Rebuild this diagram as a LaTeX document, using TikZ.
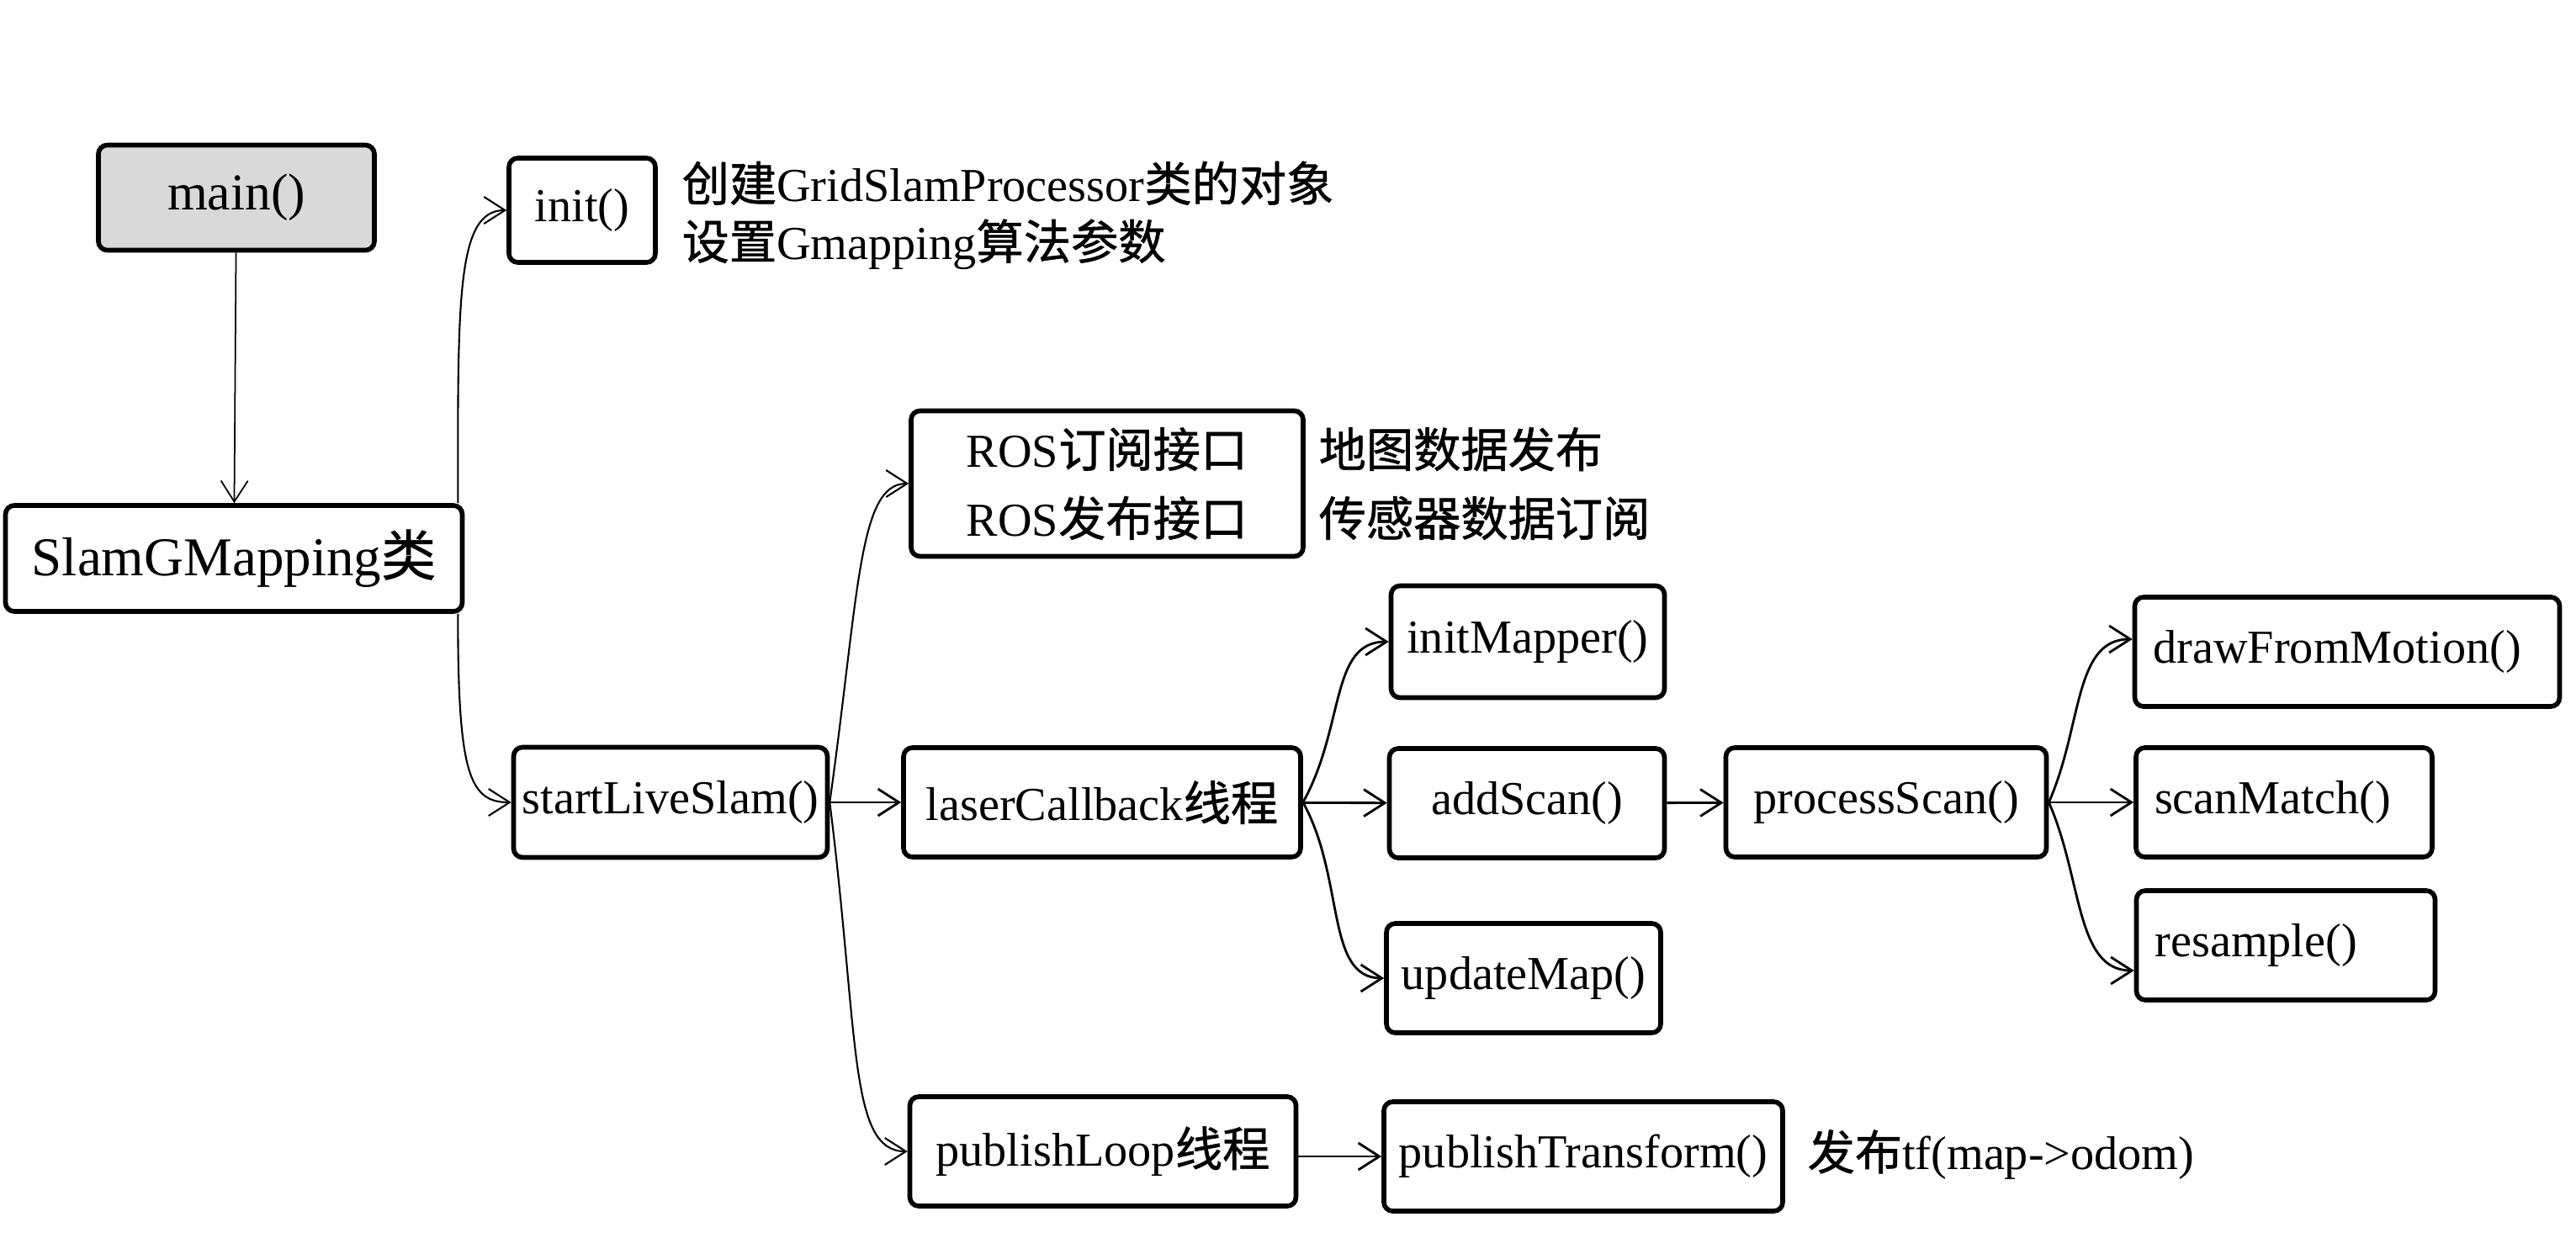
\documentclass[tikz,border=0pt]{standalone}
\usepackage{fontspec}
\setmainfont{Liberation Serif}
\newfontfamily\cjk{Noto Sans CJK SC}[FakeBold=1]
\newcommand{\zh}[1]{{\cjk #1}}
\usetikzlibrary{arrows.meta}

\begin{document}
\begin{tikzpicture}[
    module/.style={
        draw,
        rectangle,
        rounded corners=3pt,
        line width=1.6pt,
        minimum height=1.3cm,
        inner sep=1mm,
        align=center,
        font=\fontsize{16}{19}\selectfont
    },
    leftmodule/.style={
        module,
        align=left,
        inner xsep=2.2mm
    },
    note/.style={
        anchor=west,
        align=left,
        inner sep=0pt,
        font=\fontsize{16}{19.6}\selectfont
    },
    flow/.style={
        ->,
        >={Straight Barb[length=2.5mm,width=3.2mm]},
        line width=0.8pt
    },
    thinflow/.style={
        flow,
        line width=0.6pt
    }
]
    \useasboundingbox (0,0) rectangle (30.62,-14.72);

    % Entry layer
    \node[module, minimum width=3.28cm, minimum height=1.25cm, fill=black!15, font=\fontsize{17.5}{21}\selectfont] (main) at (2.81,-2.35) {main()};
    \node[module, minimum width=5.43cm, minimum height=1.26cm, font=\fontsize{18.5}{22}\selectfont] (slam) at (2.78,-6.64) {SlamGMapping\zh{类}};

    % Constructor and start layer
    \node[module, minimum width=1.74cm, minimum height=1.24cm] (init) at (6.92,-2.50) {init()};
    \node[note] (initnote) at (8.10,-2.56) {\zh{创建}GridSlamProcessor\zh{类的对象}\\\zh{设置}Gmapping\zh{算法参数}};
    \node[module, minimum width=3.70cm, minimum height=1.31cm] (start) at (7.97,-9.54) {startLiveSlam()};

    % Threads and interfaces
    \node[module, minimum width=4.66cm, minimum height=1.73cm, font=\fontsize{16}{23.3}\selectfont] (ros) at (13.16,-5.75) {ROS\zh{订阅接口}\\ROS\zh{发布接口}};
    \node[note, font=\fontsize{16}{23.3}\selectfont] (rosnote) at (15.67,-5.75) {\zh{地图数据发布}\\\zh{传感器数据订阅}};
    \node[module, minimum width=4.72cm] (laser) at (13.10,-9.54) {laserCallback\zh{线程}};
    \node[module, minimum width=4.59cm] (publoop) at (13.11,-13.69) {publishLoop\zh{线程}};

    % Mapper calls
    \node[module, minimum width=3.25cm, minimum height=1.33cm] (initm) at (18.16,-7.63) {initMapper()};
    \node[module, minimum width=3.27cm] (addscan) at (18.15,-9.55) {addScan()};
    \node[module, minimum width=3.26cm] (updmap) at (18.11,-11.63) {updateMap()};
    \node[module, minimum width=4.74cm] (pubtf) at (18.82,-13.75) {publishTransform()};
    \node[note] (tfnote) at (21.48,-13.73) {\zh{发布}tf(map->odom)};

    % Particle filter layer
    \node[module, minimum width=3.81cm] (procscan) at (22.42,-9.54) {processScan()};
    \node[leftmodule, text width=4.61cm] (dfm) at (27.90,-7.75) {drawFromMotion()};
    \node[leftmodule, text width=3.08cm] (scanm) at (27.15,-9.54) {scanMatch()};
    \node[leftmodule, text width=3.11cm] (resample) at (27.17,-11.24) {resample()};

    % Connections from main
    \draw[thinflow, line width=0.5pt] (main) -- (slam);
    \draw[thinflow] ([xshift=-0.08cm]slam.north east) .. controls +(0,2.4) and +(-0.6,0) .. (init.west);
    \draw[thinflow] ([xshift=-0.08cm]slam.south east) .. controls +(0,-1.9) and +(-0.5,0) .. (start.west);

    % startLiveSlam flows
    \draw[thinflow] (start.east) .. controls +(0.35,2.5) and +(-0.6,0) .. (ros.west);
    \draw[flow] (start) -- (laser);
    \draw[thinflow] (start.east) .. controls +(0.35,-2.8) and +(-0.7,0) .. (publoop.west);

    % laserCallback flows
    \draw[flow] (laser.east) .. controls +(0.5,0.9) and +(-0.7,0) .. (initm.west);
    \draw[flow] (laser) -- (addscan);
    \draw[flow] (laser.east) .. controls +(0.5,-0.9) and +(-0.7,0) .. (updmap.west);
    \draw[flow] (addscan) -- (procscan);

    % processScan flows
    \draw[flow] (procscan.east) .. controls +(0.4,0.9) and +(-0.7,0) .. ([yshift=0.15cm]dfm.west);
    \draw[flow] (procscan) -- (scanm);
    \draw[flow] (procscan.east) .. controls +(0.4,-0.9) and +(-0.7,0) .. ([yshift=-0.3cm]resample.west);

    % publish thread
    \draw[flow] (publoop.east |- pubtf.west) -- (pubtf.west);

\end{tikzpicture}
\end{document}
